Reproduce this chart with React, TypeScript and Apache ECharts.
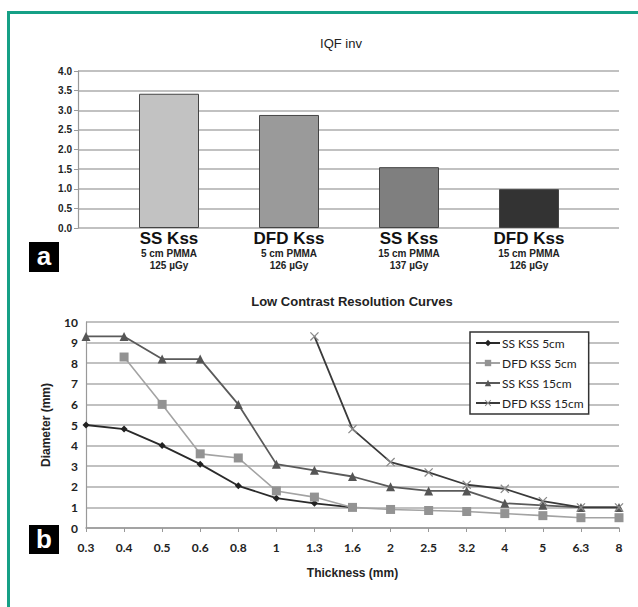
import React, { useEffect, useRef } from "react";
import * as echarts from "echarts";

// ---- Panel a: IQF inv bar chart ----
const barNames = ["SS Kss", "DFD Kss", "SS Kss", "DFD Kss"];
const barPhantom = ["5 cm PMMA", "5 cm PMMA", "15 cm PMMA", "15 cm PMMA"];
const barDose = ["125 µGy", "126 µGy", "137 µGy", "126 µGy"];
const iqfValues = [3.42, 2.88, 1.55, 0.99];
const barColors = ["#c2c2c2", "#9a9a9a", "#7f7f7f", "#333333"];

// ---- Panel b: Low contrast resolution curves ----
const thickness = ["0.3", "0.4", "0.5", "0.6", "0.8", "1", "1.3", "1.6", "2", "2.5", "3.2", "4", "5", "6.3", "8"];
const ssKss5 = [5.0, 4.8, 4.0, 3.1, 2.05, 1.45, 1.2, 1.0, null, null, null, null, null, null, null];
const dfdKss5 = [null, 8.3, 6.0, 3.6, 3.4, 1.8, 1.5, 1.0, 0.9, 0.85, 0.8, 0.7, 0.6, 0.5, 0.5];
const ssKss15 = [9.3, 9.3, 8.2, 8.2, 6.0, 3.1, 2.8, 2.5, 2.0, 1.8, 1.8, 1.2, 1.1, 1.0, 1.0];
const dfdKss15 = [null, null, null, null, null, null, 9.3, 4.8, 3.2, 2.7, 2.1, 1.9, 1.3, 1.0, 1.0];
const seriesNames = ["SS KSS 5cm", "DFD KSS 5cm", "SS KSS 15cm", "DFD KSS 15cm"];

const X_SYMBOL = "path://M0,1L1,0L10,9L9,10Z M9,0L10,1L1,10L0,9Z";
const ARIAL = "'Liberation Sans', Arial, sans-serif";
const CAL = "Lato, 'Liberation Sans', sans-serif";
const NARROW = "'Liberation Sans Narrow', 'Arial Narrow', 'Liberation Sans', sans-serif";
const TEAL = "#16a086";

export default function App() {
  const ref = useRef<HTMLDivElement>(null);
  useEffect(() => {
    document.body.style.margin = "0";
    const chart = echarts.init(ref.current!, null, { renderer: "svg" });
    const catKeys = barNames.map((n, i) => `${n}|${barPhantom[i]}|${barDose[i]}`);
    const option: any = {
      animation: false,
      backgroundColor: "#ffffff",
      grid: [
        { left: 78, top: 71, width: 541, height: 157 },
        { left: 109, top: 71, width: 480, height: 157 },
        { left: 86, top: 322, width: 533, height: 206 },
      ],
      xAxis: [
        { gridIndex: 0, type: "value", show: false, min: 0, max: 1 },
        {
          gridIndex: 1,
          type: "category",
          data: catKeys,
          axisLine: { show: false },
          axisTick: { show: false },
          axisLabel: {
            margin: 1,
            interval: 0,
            formatter: (_v: string, i: number) =>
              `{a|${barNames[i]}}\n{b|${barPhantom[i]}}\n{b|${barDose[i]}}`,
            rich: {
              a: { fontSize: 17, fontWeight: "bold", fontFamily: ARIAL, color: "#111", lineHeight: 18 },
              b: { fontSize: 10, fontWeight: "bold", fontFamily: NARROW, color: "#222", lineHeight: 12 },
            },
          },
        },
        {
          gridIndex: 2,
          type: "category",
          data: thickness,
          boundaryGap: false,
          axisLine: { show: true, lineStyle: { color: "#999", width: 1.5 } },
          axisTick: { show: true, length: 4, lineStyle: { color: "#999" } },
          axisLabel: { margin: 13, interval: 0, fontSize: 12, fontWeight: "bold", fontFamily: CAL, color: "#222" },
          name: "Thickness (mm)",
          nameLocation: "middle",
          nameGap: 39,
          nameTextStyle: { fontSize: 12, fontWeight: "bold", fontFamily: ARIAL, color: "#222" },
        },
      ],
      yAxis: [
        {
          gridIndex: 0,
          type: "value",
          min: 0,
          max: 4,
          interval: 0.5,
          axisLine: { show: true, lineStyle: { color: "#999", width: 1.2 } },
          axisTick: { show: true, length: 4, lineStyle: { color: "#999" } },
          axisLabel: {
            margin: 6,
            fontSize: 10,
            fontWeight: "bold",
            fontFamily: NARROW,
            color: "#222",
            formatter: (v: number) => v.toFixed(1),
          },
          splitLine: { show: true, lineStyle: { color: "#adadad", width: 1.5 } },
        },
        { gridIndex: 1, type: "value", min: 0, max: 4, show: false },
        {
          gridIndex: 2,
          type: "value",
          min: 0,
          max: 10,
          interval: 1,
          axisLine: { show: true, lineStyle: { color: "#999", width: 1.2 } },
          axisTick: { show: false },
          axisLabel: { margin: 8, fontSize: 12, fontWeight: "bold", fontFamily: CAL, color: "#222" },
          splitLine: { show: true, lineStyle: { color: "#adadad", width: 1.5 } },
          name: "Diameter (mm)",
          nameLocation: "middle",
          nameGap: 34,
          nameTextStyle: { fontSize: 12, fontWeight: "bold", fontFamily: ARIAL, color: "#222" },
        },
      ],
      legend: {
        data: seriesNames,
        orient: "vertical",
        left: 470,
        top: 332,
        itemGap: 8,
        itemWidth: 24,
        itemHeight: 8,
        padding: [5, 5, 5, 5],
        borderColor: "#333",
        borderWidth: 1.5,
        backgroundColor: "#fff",
        textStyle: { fontSize: 12, fontFamily: CAL, color: "#222", padding: [0, 0, 0, -3] },
      },
      series: [
        {
          type: "bar",
          xAxisIndex: 1,
          yAxisIndex: 1,
          barWidth: 60,
          data: iqfValues.map((v, i) => ({
            value: v,
            itemStyle: { color: barColors[i], borderColor: "#444", borderWidth: 1 },
          })),
        },
        {
          name: seriesNames[0],
          type: "line",
          xAxisIndex: 2,
          yAxisIndex: 2,
          data: ssKss5,
          symbol: "diamond",
          symbolSize: 7,
          itemStyle: { color: "#222" },
          lineStyle: { color: "#2a2a2a", width: 1.8 },
          z: 3,
        },
        {
          name: seriesNames[1],
          type: "line",
          xAxisIndex: 2,
          yAxisIndex: 2,
          data: dfdKss5,
          symbol: "rect",
          symbolSize: 9,
          itemStyle: { color: "#939393" },
          lineStyle: { color: "#a3a3a3", width: 1.6 },
          z: 4,
        },
        {
          name: seriesNames[2],
          type: "line",
          xAxisIndex: 2,
          yAxisIndex: 2,
          data: ssKss15,
          symbol: "triangle",
          symbolSize: 9,
          itemStyle: { color: "#555" },
          lineStyle: { color: "#5a5a5a", width: 1.8 },
          z: 3,
        },
        {
          name: seriesNames[3],
          type: "line",
          xAxisIndex: 2,
          yAxisIndex: 2,
          data: dfdKss15,
          symbol: X_SYMBOL,
          symbolSize: 9,
          itemStyle: { color: "#8a8a8a" },
          lineStyle: { color: "#3a3a3a", width: 1.8 },
          z: 3,
        },
      ],
      graphic: [
        { type: "rect", shape: { x: 7, y: 11, width: 631, height: 3 }, style: { fill: TEAL } },
        { type: "rect", shape: { x: 7, y: 11, width: 3, height: 596 }, style: { fill: TEAL } },
        {
          type: "text",
          x: 341,
          y: 43,
          style: { text: "IQF inv", fontSize: 13, fontFamily: ARIAL, fill: "#222", align: "center", verticalAlign: "middle" },
        },
        {
          type: "text",
          x: 352,
          y: 301,
          style: {
            text: "Low Contrast Resolution Curves",
            fontSize: 13,
            fontWeight: "bold",
            fontFamily: ARIAL,
            fill: "#222",
            align: "center",
            verticalAlign: "middle",
          },
        },
        { type: "rect", shape: { x: 29, y: 242, width: 30, height: 30 }, style: { fill: "#000" } },
        {
          type: "text",
          x: 44,
          y: 256,
          style: { text: "a", fontSize: 26, fontWeight: "bold", fontFamily: ARIAL, fill: "#fff", align: "center", verticalAlign: "middle" },
        },
        { type: "rect", shape: { x: 29, y: 525, width: 30, height: 29 }, style: { fill: "#000" } },
        {
          type: "text",
          x: 44,
          y: 539,
          style: { text: "b", fontSize: 26, fontWeight: "bold", fontFamily: ARIAL, fill: "#fff", align: "center", verticalAlign: "middle" },
        },
      ],
    };
    chart.setOption(option);
    return () => chart.dispose();
  }, []);
  return <div ref={ref} style={{ width: 638, height: 607 }} />;
}
